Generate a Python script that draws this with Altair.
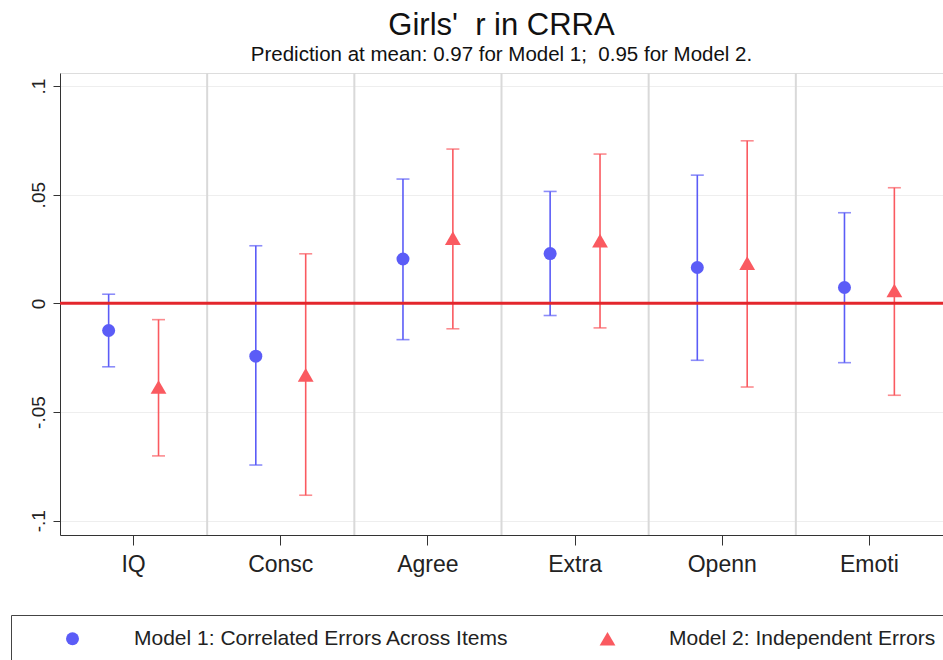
import altair as alt
import pandas as pd

categories = ["IQ", "Consc", "Agree", "Extra", "Openn", "Emoti"]
models = ["Model 1: Correlated Errors Across Items", "Model 2: Independent Errors"]
m1_est = [-0.0125, -0.0243, 0.0204, 0.0229, 0.0165, 0.0073]
m1_lo = [-0.0292, -0.0744, -0.0167, -0.0056, -0.0262, -0.0273]
m1_hi = [0.0042, 0.0265, 0.0572, 0.0515, 0.0590, 0.0417]
m2_est = [-0.0385, -0.0329, 0.0300, 0.0289, 0.0185, 0.0059]
m2_lo = [-0.0702, -0.0883, -0.0117, -0.0113, -0.0385, -0.0423]
m2_hi = [-0.0075, 0.0228, 0.0710, 0.0687, 0.0748, 0.0532]
y_ticks = [-0.1, -0.05, 0, 0.05, 0.1]
y_tick_labels = ["-.1", "-.05", "0", ".05", ".1"]
ref_line = [0]
colors = ["#5b5cf7", "#fa5a60"]
shapes = ["circle", "triangle-up"]
marker_sizes = [169, 250]

FONT = "Liberation Sans"

rows = []
for i, c in enumerate(categories):
    rows.append({"cat": c, "model": models[0], "est": m1_est[i], "lo": m1_lo[i], "hi": m1_hi[i]})
    rows.append({"cat": c, "model": models[1], "est": m2_est[i], "lo": m2_lo[i], "hi": m2_hi[i]})
df = pd.DataFrame(rows)

label_expr = ""
for v, l in zip(y_ticks, y_tick_labels):
    label_expr += f"abs(datum.value - ({v})) < 1e-9 ? '{l}' : "
label_expr += "''"

x_scale = alt.Scale(type="band", domain=categories, paddingInner=0, paddingOuter=0)
xo_scale = alt.Scale(type="point", domain=models, padding=0.975)
y_scale = alt.Scale(domain=[-0.1066, 0.106], nice=False, zero=False)
color_scale = alt.Scale(domain=models, range=colors)

x_axis = alt.Axis(title=None, labelAngle=0, labelFontSize=23, labelFont=FONT, labelColor="#222",
                  tickSize=10, tickColor="#333", domainColor="#333", grid=False, labelPadding=8)
y_axis = alt.Axis(title=None, values=y_ticks, labelExpr=label_expr, labelAngle=270, labelFontSize=19,
                  labelFont=FONT, labelColor="#222", tickSize=7, tickColor="#333", domainColor="#333",
                  grid=True, gridColor="#eeeeee", gridWidth=1, labelPadding=5)

legend = alt.Legend(title=None, orient="none", legendX=-49, legendY=542,
                    direction="horizontal", columns=2, columnPadding=50,
                    strokeColor="#444", fillColor="white", padding=13,
                    labelFont=FONT, labelFontSize=21, labelColor="#222",
                    labelLimit=700, symbolOffset=38, labelOffset=51,
                    symbolSize=150, symbolStrokeWidth=0, symbolOpacity=1)

base = alt.Chart(df)

X = alt.X("cat:N", scale=x_scale, axis=x_axis, sort=categories)
XO = alt.XOffset("model:N", scale=xo_scale)
COL = alt.Color("model:N", scale=color_scale, legend=legend)
SHP = alt.Shape("model:N", scale=alt.Scale(domain=models, range=shapes), legend=legend)

pts = base.mark_point(filled=True, opacity=1).encode(
    x=X, xOffset=XO, y=alt.Y("est:Q", scale=y_scale, axis=y_axis),
    color=COL, shape=SHP,
    size=alt.Size("model:N", scale=alt.Scale(domain=models, range=marker_sizes), legend=None),
)

seps = alt.Chart(pd.DataFrame({"cat": categories[1:]})).mark_rule(color="#d9d9d9", strokeWidth=2).encode(
    x=alt.X("cat:N", scale=x_scale, axis=x_axis, sort=categories, bandPosition=0)
)

bars = base.mark_rule(strokeWidth=1.6).encode(
    x=X, xOffset=XO, y=alt.Y("lo:Q", scale=y_scale, axis=y_axis), y2="hi:Q", color=COL
)
caps_lo = base.mark_tick(size=13, thickness=1.6).encode(
    x=X, xOffset=XO, y=alt.Y("lo:Q", scale=y_scale, axis=y_axis), color=COL
)
caps_hi = base.mark_tick(size=13, thickness=1.6).encode(
    x=X, xOffset=XO, y=alt.Y("hi:Q", scale=y_scale, axis=y_axis), color=COL
)
zero = alt.Chart(pd.DataFrame({"v": ref_line})).mark_rule(color="#e3262c", strokeWidth=3).encode(
    y=alt.Y("v:Q", scale=y_scale, axis=y_axis)
)

chart = alt.layer(seps, bars, caps_lo, caps_hi, zero, pts).properties(
    width=883, height=462,
    padding={"left": 60, "top": 73, "right": 0, "bottom": 125},
    autosize=alt.AutoSizeParams(type="none"),
    title=alt.Title("Girls' \u00a0r in CRRA",
                    subtitle="Prediction at mean: 0.97 for Model 1; \u00a00.95 for Model 2.",
                    font=FONT, fontSize=31, fontWeight="normal", color="#111",
                    subtitleFont=FONT, subtitleFontSize=20.5, subtitleColor="#111",
                    anchor="middle", offset=6, subtitlePadding=3),
).configure_view(strokeWidth=0).configure(background="white")

chart.save("out.html", embed_options={"renderer": "svg", "actions": False})
